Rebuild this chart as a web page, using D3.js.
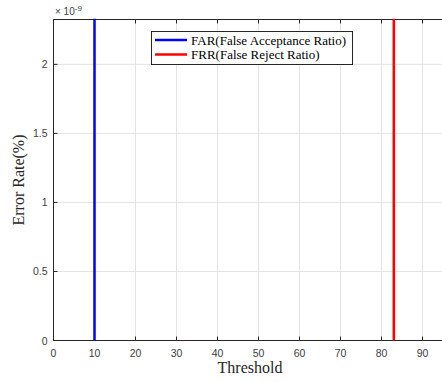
<!DOCTYPE html>
<html>
<head>
<meta charset="utf-8">
<script src="https://cdn.jsdelivr.net/npm/d3@7"></script>
<style>
  body { margin: 0; background: #fff; }
  svg { display: block; }
</style>
</head>
<body>
<div id="chart"></div>
<script>
// values (error rate in units of 1e-9)
const farPoints = [[10, 0], [10, 2.33]];
const frrPoints = [[83, 0], [83, 2.33]];
const xTicks = [0, 10, 20, 30, 40, 50, 60, 70, 80, 90, 100];
const yTicks = [0, 0.5, 1, 1.5, 2];
const seriesNames = ['FAR(False Acceptance Ratio)', 'FRR(False Reject Ratio)'];
const seriesColors = ['#0000ff', '#ff0000'];

const width = 442, height = 382;
const margin = { top: 19.5, left: 53.5, bottom: 340.5 };

const svg = d3.select('#chart').append('svg')
  .attr('width', width)
  .attr('height', height);

const x = d3.scaleLinear().domain([0, 100]).range([margin.left, margin.left + 410]);
const y = d3.scaleLinear().domain([0, 2.325]).range([margin.bottom, margin.top]);

// only ticks whose label fits inside the window (plot is cut at the right)
const xLabelTicks = xTicks.filter(d => x(d) + 8 < width);

// grid
svg.append('g')
  .selectAll('line.gx')
  .data(xTicks)
  .enter().append('line')
  .attr('x1', d => x(d)).attr('x2', d => x(d))
  .attr('y1', y(0)).attr('y2', y(2.325))
  .attr('stroke', '#e3e3e3').attr('stroke-width', 1);

svg.append('g')
  .selectAll('line.gy')
  .data(yTicks)
  .enter().append('line')
  .attr('x1', x(0)).attr('x2', width)
  .attr('y1', d => y(d)).attr('y2', d => y(d))
  .attr('stroke', '#e3e3e3').attr('stroke-width', 1);

// box lines
svg.append('line')
  .attr('x1', x(0)).attr('x2', width).attr('y1', y(0)).attr('y2', y(0))
  .attr('stroke', '#262626');
svg.append('line')
  .attr('x1', x(0)).attr('x2', width).attr('y1', y(2.325)).attr('y2', y(2.325))
  .attr('stroke', '#262626');
svg.append('line')
  .attr('x1', x(0)).attr('x2', x(0)).attr('y1', y(0)).attr('y2', y(2.325))
  .attr('stroke', '#262626');

// inward ticks
svg.append('g').selectAll('line')
  .data(xTicks).enter().append('line')
  .attr('x1', d => x(d)).attr('x2', d => x(d))
  .attr('y1', y(0)).attr('y2', y(0) - 4)
  .attr('stroke', '#262626');
svg.append('g').selectAll('line')
  .data(xTicks).enter().append('line')
  .attr('x1', d => x(d)).attr('x2', d => x(d))
  .attr('y1', y(2.325)).attr('y2', y(2.325) + 4)
  .attr('stroke', '#262626');
svg.append('g').selectAll('line')
  .data(yTicks).enter().append('line')
  .attr('x1', x(0)).attr('x2', x(0) + 4)
  .attr('y1', d => y(d)).attr('y2', d => y(d))
  .attr('stroke', '#262626');

// tick labels
svg.append('g').selectAll('text')
  .data(xLabelTicks).enter().append('text')
  .attr('x', d => x(d))
  .attr('y', y(0) + 16)
  .attr('text-anchor', 'middle')
  .style('font-family', 'Liberation Sans, Arial, sans-serif')
  .style('font-size', '10.5px')
  .style('fill', '#404040')
  .text(d => d);

svg.append('g').selectAll('text')
  .data(yTicks).enter().append('text')
  .attr('x', x(0) - 6)
  .attr('y', d => y(d) + 4)
  .attr('text-anchor', 'end')
  .style('font-family', 'Liberation Sans, Arial, sans-serif')
  .style('font-size', '10.5px')
  .style('fill', '#404040')
  .text(d => d);

// exponent
const expo = svg.append('text')
  .attr('x', 55).attr('y', 15)
  .style('font-family', 'Liberation Sans, Arial, sans-serif')
  .style('font-size', '10px')
  .style('fill', '#404040');
expo.append('tspan').text('\u00d7 10');
expo.append('tspan').attr('dy', -4).style('font-size', '8px').text('-9');

// series lines
const line = d3.line().x(d => x(d[0])).y(d => y(d[1]));
[farPoints, frrPoints].forEach((pts, i) => {
  svg.append('path')
    .datum(pts)
    .attr('d', line)
    .attr('fill', 'none')
    .attr('stroke', seriesColors[i])
    .attr('stroke-width', 2.5);
});

// axis labels
svg.append('text')
  .attr('x', 250).attr('y', 373)
  .attr('text-anchor', 'middle')
  .style('font-family', 'Liberation Serif, Times New Roman, serif')
  .style('font-size', '16px')
  .style('fill', '#262626')
  .text('Threshold');

svg.append('text')
  .attr('transform', `translate(24, ${(y(0) + y(2.325)) / 2}) rotate(-90)`)
  .attr('text-anchor', 'middle')
  .style('font-family', 'Liberation Serif, Times New Roman, serif')
  .style('font-size', '16px')
  .style('fill', '#262626')
  .text('Error Rate(%)');

// legend
const legend = svg.append('g').attr('transform', 'translate(151.5, 31.5)');
legend.append('rect')
  .attr('width', 201).attr('height', 33)
  .attr('fill', '#fff').attr('stroke', '#262626');
seriesNames.forEach((name, i) => {
  const row = legend.append('g').attr('transform', `translate(0, ${8.5 + i * 14.5})`);
  row.append('line')
    .attr('x1', 3.5).attr('x2', 35.5)
    .attr('stroke', seriesColors[i]).attr('stroke-width', 2.5);
  row.append('text')
    .attr('x', 39.5).attr('y', 4.5)
    .style('font-family', 'Liberation Serif, Times New Roman, serif')
    .style('font-size', '13px')
    .style('fill', '#000')
    .text(name);
});
</script>
</body>
</html>
